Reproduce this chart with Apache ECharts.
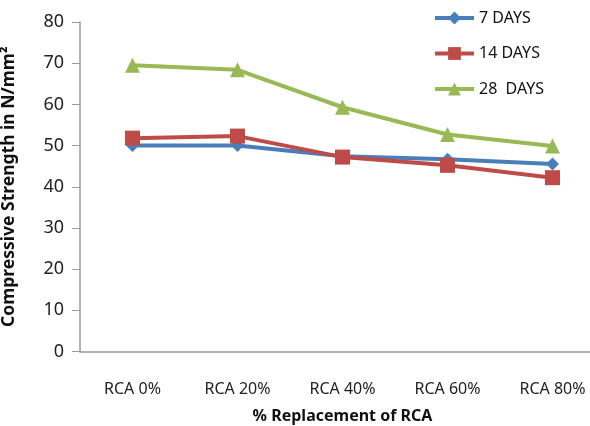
<!DOCTYPE html>
<html>
<head>
<meta charset="utf-8">
<script src="https://cdn.jsdelivr.net/npm/echarts@6/dist/echarts.min.js"></script>
<style>
  html, body { margin: 0; padding: 0; background: #fff; }
  #chart { width: 590px; height: 426px; }
</style>
</head>
<body>
<div id="chart"></div>
<script>
// Replacement levels and compressive strength (N/mm²) by curing age
const categories = ['RCA 0%', 'RCA 20%', 'RCA 40%', 'RCA 60%', 'RCA 80%'];
const days7 = [50.0, 50.0, 47.4, 46.7, 45.5];
const days14 = [51.8, 52.3, 47.2, 45.2, 42.2];
const days28 = [69.5, 68.4, 59.3, 52.7, 49.9];
const yTicks = [0, 10, 20, 30, 40, 50, 60, 70, 80];

const FONT = "'Noto Sans', sans-serif";

const chart = echarts.init(document.getElementById('chart'));

function lineSeries(name, data, color, symbol, size) {
  return {
    name: name,
    type: 'line',
    data: data,
    symbol: symbol,
    symbolSize: size,
    lineStyle: { color: color, width: 4 },
    itemStyle: { color: color },
    emphasis: { disabled: true },
    z: 3
  };
}

chart.setOption({
  animation: false,
  textStyle: { fontFamily: FONT },
  grid: {
    left: 80, top: 22, width: 525, height: 329.5,
    containLabel: false,
    outerBoundsMode: 'none'
  },
  legend: {
    left: 428,
    top: 5,
    orient: 'vertical',
    itemGap: 19.5,
    itemWidth: 39,
    itemHeight: 16,
    lineStyle: { width: 4 },
    textStyle: { fontFamily: FONT, fontSize: 16, color: '#111' },
    data: ['7 DAYS', '14 DAYS', '28  DAYS']
  },
  xAxis: {
    type: 'category',
    data: categories,
    boundaryGap: true,
    axisLine: { lineStyle: { color: '#9a9a9a', width: 1.5 } },
    axisTick: { show: false },
    axisLabel: { color: '#222', fontSize: 16, margin: 30, fontFamily: FONT },
    name: '% Replacement of RCA',
    nameLocation: 'middle',
    nameGap: 57,
    nameTextStyle: { fontWeight: 'bold', fontSize: 16, color: '#111', fontFamily: FONT }
  },
  yAxis: {
    type: 'value',
    min: yTicks[0],
    max: yTicks[yTicks.length - 1],
    interval: 10,
    axisLine: { show: true, lineStyle: { color: '#9a9a9a', width: 1.5 } },
    axisTick: { show: true, length: 8, lineStyle: { color: '#9a9a9a' } },
    splitLine: { show: false },
    axisLabel: { color: '#222', fontSize: 18, margin: 16, fontFamily: FONT },
    name: 'Compressive Strength in N/mm²',
    nameLocation: 'middle',
    nameGap: 62,
    nameTextStyle: { fontWeight: 'bold', fontSize: 17.5, color: '#111', fontFamily: FONT }
  },
  series: [
    lineSeries('7 DAYS', days7, '#4a7ebb', 'diamond', 13),
    lineSeries('14 DAYS', days14, '#be4b48', 'rect', 15),
    lineSeries('28  DAYS', days28, '#98b954', 'triangle', 15)
  ]
});
</script>
</body>
</html>
